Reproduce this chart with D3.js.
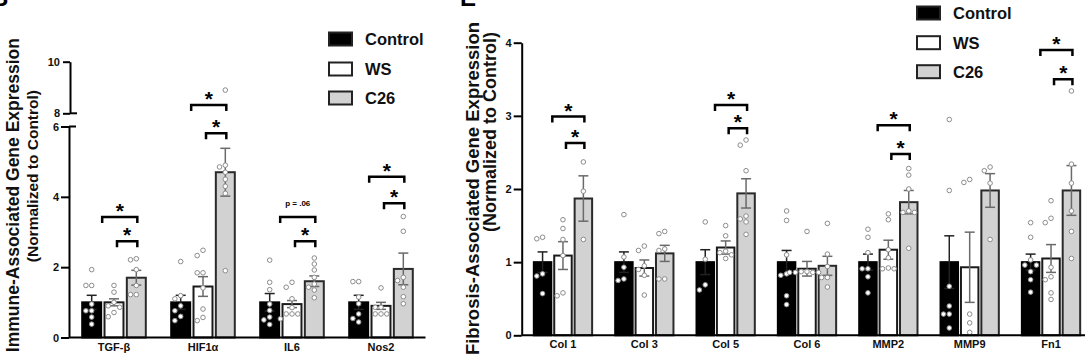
<!DOCTYPE html>
<html><head><meta charset="utf-8">
<script src="https://cdn.jsdelivr.net/npm/d3@7"></script>
<style>body{margin:0;background:#fff}svg{display:block}</style>
</head><body>
<svg id="chart" width="1085" height="359"></svg>
<script>
// ---------------- DATA ----------------
const seriesNames = ["Control", "WS", "C26"];

// Left panel: immune-associated genes
const leftGroups = ["TGF-β", "HIF1α", "IL6", "Nos2"];
const leftControlMean = [1.0, 1.0, 1.0, 1.0];
const leftWSMean      = [1.0, 1.45, 0.95, 0.9];
const leftC26Mean     = [1.7, 4.7, 1.6, 1.95];
const leftControlSem  = [0.2, 0.2, 0.25, 0.2];
const leftWSSem       = [0.1, 0.28, 0.1, 0.1];
const leftC26Sem      = [0.21, 0.68, 0.15, 0.45];
const leftControlPts = [
  [1.93, 1.48, 1.48, 0.95, 0.76, 0.76, 0.58, 0.38],
  [2.16, 1.19, 1.1, 0.9, 0.76, 0.6, 0.48],
  [2.2, 1.57, 1.36, 0.95, 0.77, 0.58, 0.37, 0.5],
  [1.59, 1.59, 1.15, 0.96, 0.67, 0.54, 0.44]
];
const leftWSPts = [
  [1.48, 1.29, 1.0, 0.9, 0.86, 0.71, 0.59],
  [2.48, 2.33, 1.84, 1.84, 1.41, 0.81, 0.57, 0.48],
  [1.57, 1.43, 1.1, 0.85, 0.67, 0.67, 0.67, 0.53],
  [1.41, 0.86, 0.67, 0.67, 0.86, 0.67]
];
const leftC26Pts = [
  [2.24, 2.21, 1.93, 1.48, 1.22, 1.22],
  [8.9, 4.9, 4.85, 4.7, 4.5, 4.3, 4.1, 1.9],
  [2.26, 2.09, 1.92, 1.71, 1.52, 1.43, 1.35, 1.13],
  [3.44, 3.02, 1.71, 1.62, 1.43, 1.16, 0.96]
];
const leftYTicksLower = [0, 2, 4, 6];
const leftYTicksUpper = [8, 10];
// significance brackets: group index, type, height (data units), label
const leftBrackets = [
  {g: 0, type: "outer", y: 3.43, label: "*"},
  {g: 0, type: "inner", y: 2.74, label: "*"},
  {g: 1, type: "outer", y: 8.32, label: "*"},
  {g: 1, type: "inner", y: 5.81, label: "*"},
  {g: 2, type: "outer", y: 3.43, label: "p = .06"},
  {g: 2, type: "inner", y: 2.74, label: "*"},
  {g: 3, type: "outer", y: 4.57, label: "*"},
  {g: 3, type: "inner", y: 3.82, label: "*"}
];

// Right panel: fibrosis-associated genes
const rightGroups = ["Col 1", "Col 3", "Col 5", "Col 6", "MMP2", "MMP9", "Fn1"];
const rightControlMean = [1, 1, 1, 1, 1, 1, 1];
const rightWSMean      = [1.09, 0.92, 1.2, 0.91, 1.17, 0.93, 1.05];
const rightC26Mean     = [1.87, 1.12, 1.94, 0.95, 1.82, 1.98, 1.98];
const rightControlSem  = [0.14, 0.14, 0.17, 0.16, 0.11, 0.36, 0.11];
const rightWSSem       = [0.19, 0.11, 0.09, 0.1, 0.13, 0.48, 0.19];
const rightC26Sem      = [0.31, 0.11, 0.2, 0.13, 0.16, 0.23, 0.34];
const rightControlPts = [
  [1.34, 1.32, 0.84, 0.81, 0.57],
  [1.65, 1.07, 0.93, 0.77, 0.75],
  [1.55, 1.04, 0.69, 0.62],
  [1.70, 1.57, 1.1, 0.84, 0.82, 0.54, 0.42],
  [1.45, 1.34, 1.13, 0.91, 0.91, 0.8, 0.58],
  [2.95, 1.98, 0.67, 0.4, 0.29, 0.29, 0.1],
  [1.54, 1.34, 1.03, 0.96, 0.96, 0.87, 0.76, 0.59]
];
const rightWSPts = [
  [1.58, 1.46, 1.31, 1.09, 0.58, 0.54],
  [1.22, 1.16, 0.95, 0.9, 0.82, 0.55],
  [1.5, 1.36, 1.15, 1.13, 1.1, 1.05],
  [1.42, 0.87, 0.86, 0.86, 0.87, 0.86, 0.86],
  [1.66, 1.58, 1.17, 1.06, 0.91, 0.91, 0.92],
  [2.13, 2.09, 0.29, 0.17, 0.04],
  [1.84, 1.6, 1.54, 0.93, 0.8, 0.76, 0.58, 0.49]
];
const rightC26Pts = [
  [2.37, 1.97, 1.31],
  [1.42, 1.39, 1.18, 1.16, 0.77, 0.77],
  [2.67, 2.6, 2.25, 1.63, 1.59, 1.55, 1.38],
  [1.53, 1.11, 0.94, 0.79, 0.79, 0.66],
  [2.28, 2.19, 2.0, 1.7, 1.68, 1.68, 1.19],
  [2.3, 2.25, 2.08, 1.31],
  [3.34, 2.34, 2.08, 1.7, 1.42, 1.05]
];
const rightYTicks = [0, 1, 2, 3, 4];
const rightBrackets = [
  {g: 0, type: "outer", y: 2.99, label: "*"},
  {g: 0, type: "inner", y: 2.63, label: "*"},
  {g: 2, type: "outer", y: 3.15, label: "*"},
  {g: 2, type: "inner", y: 2.83, label: "*"},
  {g: 4, type: "outer", y: 2.87, label: "*"},
  {g: 4, type: "inner", y: 2.48, label: "*"},
  {g: 6, type: "outer", y: 3.9, label: "*"},
  {g: 6, type: "inner", y: 3.5, label: "*"}
];

// ---------------- STYLE ----------------
const FONT = "'Liberation Sans', Arial, Helvetica, sans-serif";
const fills   = {Control: "#000", WS: "#fff", C26: "#d2d2d2"};
const strokes = {Control: "#000", WS: "#1a1a1a", C26: "#2a2a2a"};
const errCol  = {Control: "#222", WS: "#6a6a6a", C26: "#6a6a6a"};

const svg = d3.select("#chart");

function beeswarm(vals, y, r) {
  const order = vals.map((v, i) => i).sort((a, b) => vals[b] - vals[a]);
  const placed = [], out = new Array(vals.length);
  const cands = [0, -1, 1, -2, 2, -3, 3];
  order.forEach(i => {
    const py = y(vals[i]);
    for (const c of cands) {
      const px = c * (2 * r + 1.2);
      if (placed.every(q => Math.hypot(q.x - px, q.y - py) >= 2 * r + 0.8)) {
        placed.push({x: px, y: py}); out[i] = {x: px, y: py}; break;
      }
    }
    if (!out[i]) out[i] = {x: 0, y: py};
  });
  return out;
}

function drawPanel(p) {
  const g = svg.append("g");
  const x = d3.scaleBand().domain(p.groups).range(p.xRange).paddingInner(0).paddingOuter(0);
  const sub = d3.scaleBand().domain(seriesNames).range([-p.subW / 2, p.subW / 2]).paddingInner(p.subPad);
  const y = p.y;
  const cx = (gi) => x(p.groups[gi]) + x.bandwidth() / 2;
  const bw = sub.bandwidth();

  const rows = [];
  seriesNames.forEach((s, si) => {
    p.groups.forEach((gr, gi) => {
      rows.push({s, gi, mean: p.means[si][gi], sem: p.sems[si][gi], pts: p.pts[si][gi],
        xc: cx(gi) + sub(s) + bw / 2, x0: cx(gi) + sub(s)});
    });
  });

  // bars
  g.selectAll("rect.bar").data(rows).join("rect")
    .attr("x", d => d.x0 + 1).attr("width", bw - 2)
    .attr("y", d => y(d.mean)).attr("height", d => y(0) - y(d.mean))
    .attr("fill", d => fills[d.s]).attr("stroke", d => strokes[d.s]).attr("stroke-width", 2);

  // error bars
  rows.forEach(d => {
    const c = errCol[d.s];
    const top = y(d.mean + d.sem), bot = y(d.mean - d.sem);
    g.append("line").attr("x1", d.xc).attr("x2", d.xc).attr("y1", top).attr("y2", bot)
      .attr("stroke", c).attr("stroke-width", 1.5);
    [top, bot].forEach(yy => g.append("line").attr("x1", d.xc - 5).attr("x2", d.xc + 5)
      .attr("y1", yy).attr("y2", yy).attr("stroke", c).attr("stroke-width", 1.5));
  });

  // points
  rows.forEach(d => {
    const sw = beeswarm(d.pts, y, 2.3);
    g.selectAll(null).data(sw).join("circle")
      .attr("cx", q => d.xc + q.x).attr("cy", q => q.y).attr("r", 2.3)
      .attr("fill", "#fff").attr("stroke", "#8c8c8c").attr("stroke-width", 1);
  });

  // x baseline
  g.append("line").attr("x1", p.axisX).attr("x2", p.baseEnd).attr("y1", y(0)).attr("y2", y(0))
    .attr("stroke", "#000").attr("stroke-width", 2);

  // x labels
  const xa = g.append("g").attr("transform", `translate(0,${y(0)})`)
    .call(d3.axisBottom(x).tickSize(0).tickPadding(p.xPad));
  xa.select(".domain").remove();
  xa.selectAll("text").attr("font-family", FONT).attr("font-weight", "bold")
    .attr("font-size", p.xFont).attr("fill", "#111");

  // brackets
  p.brackets.forEach(b => {
    const xr = cx(b.g) + sub("C26") + bw / 2 + 1;
    const xl = b.type === "outer" ? cx(b.g) + sub("Control") + bw : cx(b.g) + sub("WS") + bw / 2 + 3;
    const yy = y(b.y);
    g.append("path").attr("d", `M${xl},${yy + 6}V${yy}H${xr}V${yy + 6}`)
      .attr("fill", "none").attr("stroke", "#000").attr("stroke-width", 2.5);
    const isStar = b.label === "*";
    g.append("text").attr("x", (xl + xr) / 2).attr("y", isStar ? yy + 1 : yy - 10.5)
      .attr("text-anchor", "middle").attr("font-family", FONT).attr("font-weight", "bold")
      .attr("font-size", isStar ? 21 : 8).attr("fill", "#000").text(b.label);
  });

  // legend
  seriesNames.forEach((s, i) => {
    const ly = p.legendY[i];
    g.append("rect").attr("x", p.legendX).attr("y", ly - 6.5).attr("width", 23).attr("height", 13)
      .attr("fill", fills[s]).attr("stroke", "#222").attr("stroke-width", 2);
    g.append("text").attr("x", p.legendX + 36).attr("y", ly).attr("dy", "0.36em")
      .attr("font-family", FONT).attr("font-weight", "bold").attr("font-size", 16.5)
      .attr("fill", "#111").text(s);
  });

  // y title
  p.titles.forEach(t => {
    g.append("text").attr("transform", `translate(${t.x},${t.y}) rotate(-90)`)
      .attr("text-anchor", "end").attr("font-family", FONT).attr("font-weight", "bold")
      .attr("font-size", t.fs).attr("fill", "#111").text(t.text);
  });
  return g;
}

function styleAxis(sel) {
  sel.selectAll("path.domain").attr("stroke-width", 2);
  sel.selectAll(".tick line").attr("stroke-width", 2);
  sel.selectAll("text").attr("font-family", FONT).attr("font-weight", "bold")
    .attr("font-size", 11).attr("fill", "#111");
}
const intFmt = d3.format("d");

// ---------------- LEFT PANEL ----------------
const yLeft = d3.scaleLinear().domain([0, 6, 8, 10]).range([337.5, 126.5, 113.3, 61.7]);
drawPanel({
  groups: leftGroups,
  means: [leftControlMean, leftWSMean, leftC26Mean],
  sems: [leftControlSem, leftWSSem, leftC26Sem],
  pts: [leftControlPts, leftWSPts, leftC26Pts],
  brackets: leftBrackets,
  xRange: [69.5, 425.5], subW: 65.6, subPad: 0.06,
  y: yLeft, axisX: 69, baseEnd: 425.5, xPad: 6, xFont: 11,
  legendX: 329, legendY: [39, 69, 98],
  titles: [
    {text: "Immune-Associated Gene Expression", x: 19, y: 38, fs: 17.5},
    {text: "(Normalized to Control)", x: 38, y: 90, fs: 15.5}
  ]
});
const yLower = d3.scaleLinear().domain([0, 6]).range([yLeft(0), yLeft(6)]);
const yUpper = d3.scaleLinear().domain([8, 10]).range([yLeft(8), yLeft(10)]);
const la = svg.append("g").attr("transform", "translate(69,0)")
  .call(d3.axisLeft(yLower).tickValues(leftYTicksLower).tickFormat(intFmt).tickSize(8).tickSizeOuter(0).tickPadding(2));
styleAxis(la);
const ua = svg.append("g").attr("transform", "translate(70,0)")
  .call(d3.axisLeft(yUpper).tickValues(leftYTicksUpper).tickFormat(intFmt).tickSize(7).tickSizeOuter(0).tickPadding(3));
styleAxis(ua);
// break caps
svg.append("line").attr("x1", 69).attr("x2", 76).attr("y1", yLeft(6)).attr("y2", yLeft(6))
  .attr("stroke", "#000").attr("stroke-width", 2);
svg.append("line").attr("x1", 70).attr("x2", 77).attr("y1", yLeft(8)).attr("y2", yLeft(8))
  .attr("stroke", "#000").attr("stroke-width", 2);

// ---------------- RIGHT PANEL ----------------
const yRight = d3.scaleLinear().domain([0, 4]).range([335.3, 42.7]);
drawPanel({
  groups: rightGroups,
  means: [rightControlMean, rightWSMean, rightC26Mean],
  sems: [rightControlSem, rightWSSem, rightC26Sem],
  pts: [rightControlPts, rightWSPts, rightC26Pts],
  brackets: rightBrackets,
  xRange: [522.3, 1091.7], subW: 60.3, subPad: 0.045,
  y: yRight, axisX: 521.7, baseEnd: 1085, xPad: 5, xFont: 11,
  legendX: 917, legendY: [13, 42.7, 71.7],
  titles: [
    {text: "Fibrosis-Associated Gene Expression", x: 479, y: 22, fs: 18.5},
    {text: "(Normalized to Control)", x: 496, y: 32, fs: 18}
  ]
});
const ra = svg.append("g").attr("transform", "translate(521.7,0)")
  .call(d3.axisLeft(yRight).tickValues(rightYTicks).tickFormat(intFmt).tickSize(8).tickSizeOuter(0).tickPadding(2));
styleAxis(ra);

// panel letters (cut off at the top edge, as in the source figure)
svg.append("text").attr("x", -9).attr("y", 6).attr("font-family", FONT).attr("font-weight", "bold")
  .attr("font-size", 24).attr("fill", "#000").text("B");
svg.append("text").attr("x", 460).attr("y", 6).attr("font-family", FONT).attr("font-weight", "bold")
  .attr("font-size", 24).attr("fill", "#000").text("E");
</script>
</body></html>
